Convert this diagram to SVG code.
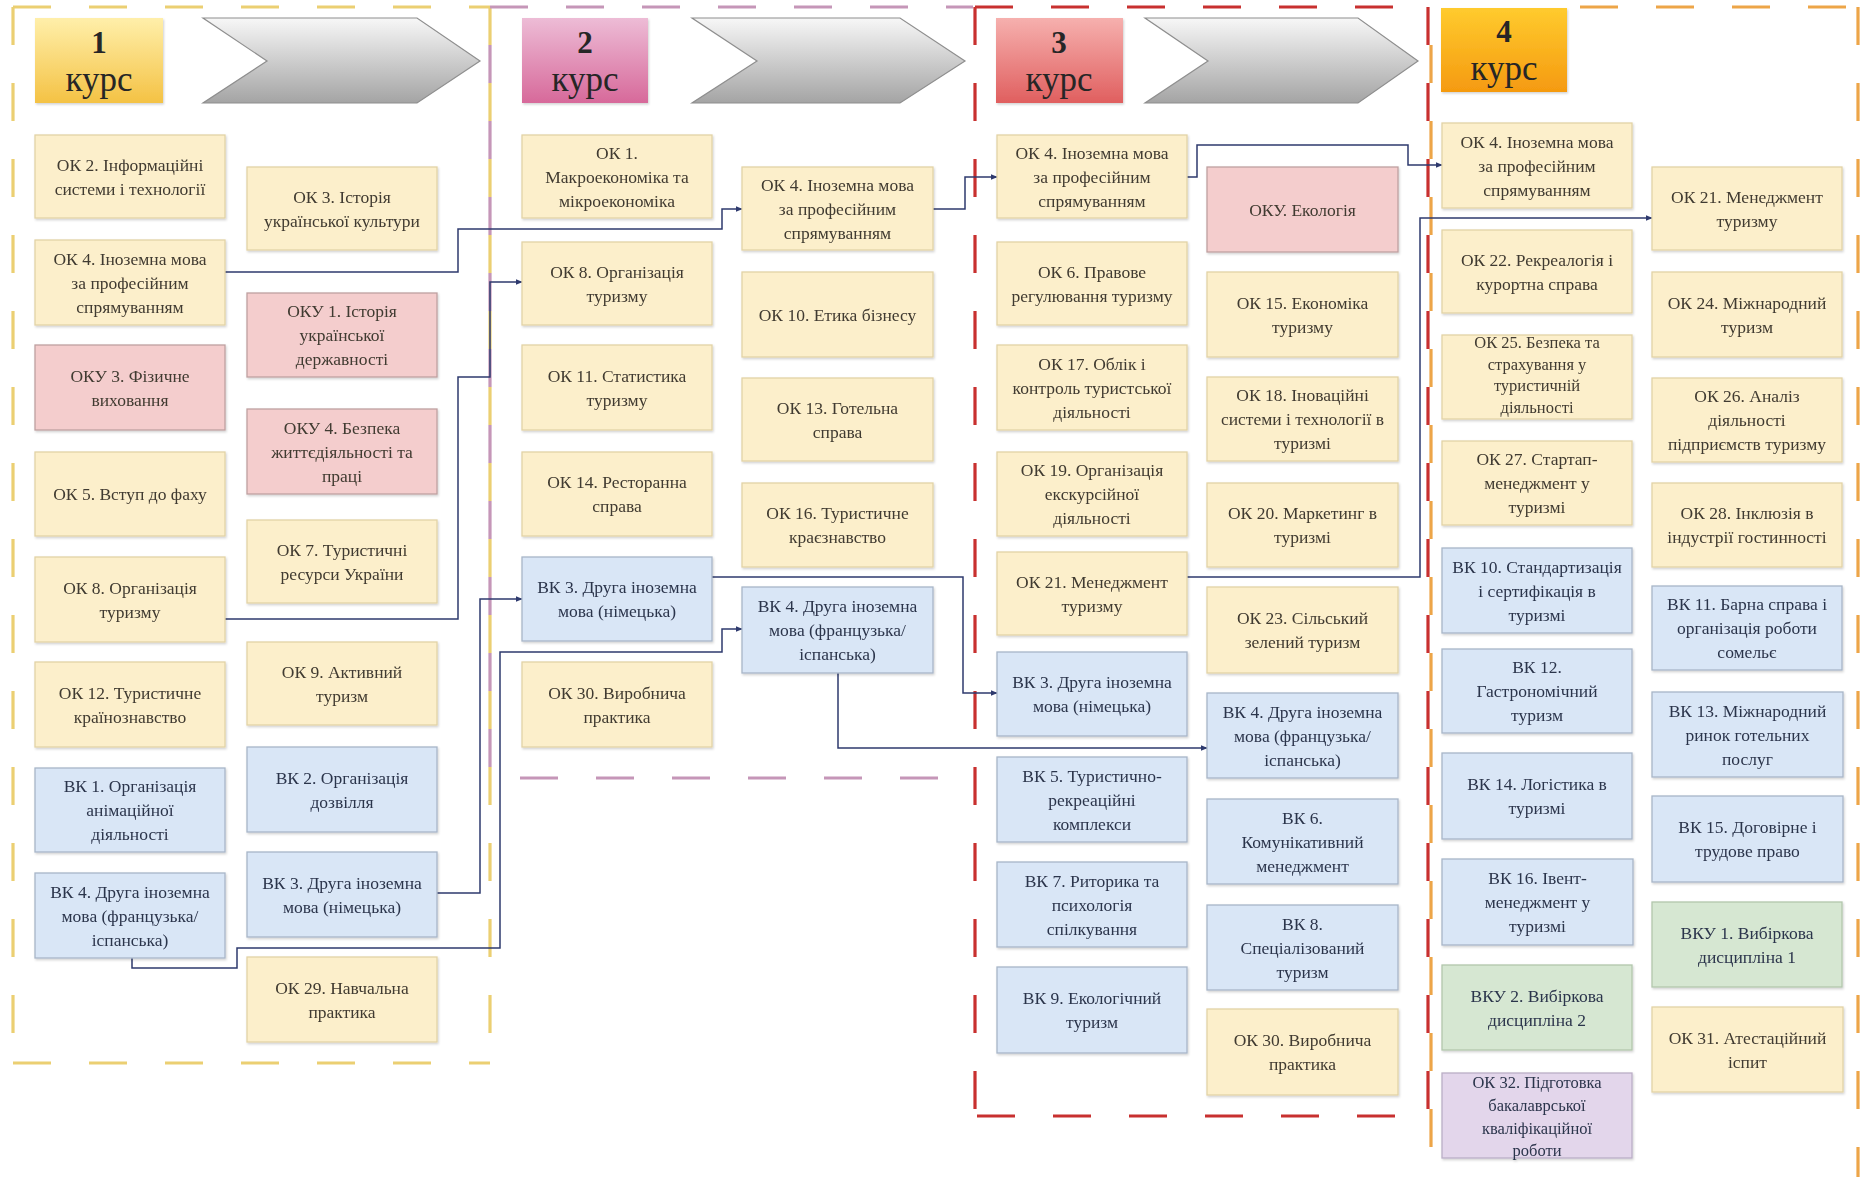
<svg xmlns="http://www.w3.org/2000/svg" width="1861" height="1177" viewBox="0 0 1861 1177">
<defs>
<style>
.b rect{stroke-width:1.3}
.ok rect{fill:#FCEFCB;stroke:#E2D3A6}
.oku rect{fill:#F4CDCD;stroke:#BFA0A0}
.vk rect{fill:#D9E6F6;stroke:#A8B6C8}
.vku rect{fill:#D6E7D2;stroke:#B2C7AD}
.pur rect{fill:#E3D6EB;stroke:#BBAEC6}
text{font-family:"Liberation Serif","Times New Roman",serif;font-size:17.5px;text-anchor:middle}
.ok text,.oku text{fill:#403A30}
.vk text,.vku text,.pur text{fill:#2C354C}
.sm text{font-size:16.5px}
.hd text{fill:#262626}
.hn{font-weight:bold;font-size:31px}
.hk{font-size:35px}
.chev{fill:url(#gch);stroke:#8E8E8E;stroke-width:1.2}
.fr{fill:none;stroke-width:3.2;stroke-dasharray:38 38}
.f1{stroke:#EBCF72}
.f2{stroke:#C596B8}
.f3{stroke:#C8302F}
.f4{stroke:#EDA548}
#connectors path{fill:none;stroke:#2E3A6E;stroke-width:1.5;marker-end:url(#arr)}
</style>
<linearGradient id="gch" x1="0" y1="0" x2="0" y2="1"><stop offset="0" stop-color="#F7F7F7"/><stop offset="1" stop-color="#A4A4A4"/></linearGradient>
<linearGradient id="g1" x1="0" y1="0" x2="0" y2="1"><stop offset="0" stop-color="#FFEFAA"/><stop offset="1" stop-color="#F4C244"/></linearGradient>
<linearGradient id="g2" x1="0" y1="0" x2="0" y2="1"><stop offset="0" stop-color="#EDBCD6"/><stop offset="1" stop-color="#D7699A"/></linearGradient>
<linearGradient id="g3" x1="0" y1="0" x2="0" y2="1"><stop offset="0" stop-color="#F6B0AE"/><stop offset="1" stop-color="#E05F5F"/></linearGradient>
<linearGradient id="g4" x1="0" y1="0" x2="0" y2="1"><stop offset="0" stop-color="#FFCB2E"/><stop offset="1" stop-color="#F59A10"/></linearGradient>
<filter id="sh" x="-5%" y="-5%" width="112%" height="115%"><feDropShadow dx="1" dy="1.5" stdDeviation="1.2" flood-color="#000" flood-opacity="0.18"/></filter>
<marker id="arr" viewBox="0 0 10 10" refX="9" refY="5" markerWidth="7" markerHeight="7" markerUnits="userSpaceOnUse" orient="auto"><path d="M0,1 L10,5 L0,9 z" fill="#2E3A6E"/></marker>
</defs>
<rect width="1861" height="1177" fill="#FFFFFF"/>

<g id="frames">
<path class="fr f1" d="M13,7 H490 M13,7 V1063 M13,1063 H490"/>
<path class="fr f1" d="M490,7 V1063"/>
<path class="fr f2" d="M490,7 H973"/>
<path class="fr f2" d="M490,45 V778"/>
<path class="fr f2" d="M520,778 H945"/>
<path class="fr f3" d="M975,7 H1430 M975,7 V1116 M977,1116 H1400"/>
<path class="fr f4" d="M1431,7 V1170" style="stroke-dashoffset:38"/>
<path class="fr f3" d="M1428,7 V1116"/>
<path class="fr f4" d="M1580,7 H1858 M1858,7 V1177"/>
</g>

<g id="headers" class="hd">
<g id="h1"><rect x="35" y="18" width="128" height="85" fill="url(#g1)" filter="url(#sh)"/><text class="hn" x="99" y="53">1</text><text class="hk" x="99" y="91">курс</text></g>
<polygon class="chev" points="203,18 417,18 480,61 417,103 203,103 267,61"/>
<g id="h2"><rect x="522" y="18" width="126" height="85" fill="url(#g2)" filter="url(#sh)"/><text class="hn" x="585" y="53">2</text><text class="hk" x="585" y="91">курс</text></g>
<polygon class="chev" points="692,18 900,18 965,61 900,103 692,103 757,61"/>
<g id="h3"><rect x="996" y="18" width="127" height="85" fill="url(#g3)" filter="url(#sh)"/><text class="hn" x="1059" y="53">3</text><text class="hk" x="1059" y="91">курс</text></g>
<polygon class="chev" points="1145,18 1358,18 1418,61 1358,103 1145,103 1208,61"/>
<g id="h4"><rect x="1441" y="8" width="126" height="84" fill="url(#g4)" filter="url(#sh)"/><text class="hn" x="1504" y="42">4</text><text class="hk" x="1504" y="80">курс</text></g>
</g>

<g id="connectors">
<path d="M225,272 H458 V229 H722 V209 H742"/>
<path d="M225,619 H458 V377 H490 V282 H522"/>
<path d="M437,893 H480 V599 H522"/>
<path d="M132,958 V968 H237 V948 H500 V652 H722 V629 H742"/>
<path d="M933,209 H965 V177 H997"/>
<path d="M712,577 H963 V693 H997"/>
<path d="M838,673 V748 H1207"/>
<path d="M1187,177 H1197 V145 H1408 V165 H1442"/>
<path d="M1187,577 H1420 V218 H1652"/>
</g>

<g id="nodes" filter="url(#sh)">
<!-- Course 1 -->
<g id="c1-ok2" class="b ok"><rect x="35" y="135" width="190" height="83"/><text x="130" y="170.5">ОК 2. Інформаційні</text><text x="130" y="194.5">системи і технології</text></g>
<g id="c1-ok3" class="b ok"><rect x="247" y="167" width="190" height="83"/><text x="342" y="202.5">ОК 3. Історія</text><text x="342" y="226.5">української культури</text></g>
<g id="c1-ok4" class="b ok"><rect x="35" y="240" width="190" height="85"/><text x="130" y="264.5">ОК 4. Іноземна мова</text><text x="130" y="288.5">за професійним</text><text x="130" y="312.5">спрямуванням</text></g>
<g id="c1-oku1" class="b oku"><rect x="247" y="293" width="190" height="84"/><text x="342" y="317">ОКУ 1. Історія</text><text x="342" y="341">української</text><text x="342" y="365">державності</text></g>
<g id="c1-oku3" class="b oku"><rect x="35" y="345" width="190" height="85"/><text x="130" y="381.5">ОКУ 3. Фізичне</text><text x="130" y="405.5">виховання</text></g>
<g id="c1-oku4" class="b oku"><rect x="247" y="409" width="190" height="85"/><text x="342" y="433.5">ОКУ 4. Безпека</text><text x="342" y="457.5">життєдіяльності та</text><text x="342" y="481.5">праці</text></g>
<g id="c1-ok5" class="b ok"><rect x="35" y="452" width="190" height="84"/><text x="130" y="500">ОК 5. Вступ до фаху</text></g>
<g id="c1-ok7" class="b ok"><rect x="247" y="520" width="190" height="83"/><text x="342" y="555.5">ОК 7. Туристичні</text><text x="342" y="579.5">ресурси України</text></g>
<g id="c1-ok8" class="b ok"><rect x="35" y="557" width="190" height="85"/><text x="130" y="593.5">ОК 8. Організація</text><text x="130" y="617.5">туризму</text></g>
<g id="c1-ok9" class="b ok"><rect x="247" y="642" width="190" height="83"/><text x="342" y="677.5">ОК 9. Активний</text><text x="342" y="701.5">туризм</text></g>
<g id="c1-ok12" class="b ok"><rect x="35" y="662" width="190" height="85"/><text x="130" y="698.5">ОК 12. Туристичне</text><text x="130" y="722.5">країнознавство</text></g>
<g id="c1-vk2" class="b vk"><rect x="247" y="747" width="190" height="85"/><text x="342" y="783.5">ВК 2. Організація</text><text x="342" y="807.5">дозвілля</text></g>
<g id="c1-vk1" class="b vk"><rect x="35" y="768" width="190" height="84"/><text x="130" y="792">ВК 1. Організація</text><text x="130" y="816">анімаційної</text><text x="130" y="840">діяльності</text></g>
<g id="c1-vk3" class="b vk"><rect x="247" y="852" width="190" height="85"/><text x="342" y="888.5">ВК 3. Друга іноземна</text><text x="342" y="912.5">мова (німецька)</text></g>
<g id="c1-vk4" class="b vk"><rect x="35" y="873" width="190" height="85"/><text x="130" y="897.5">ВК 4. Друга іноземна</text><text x="130" y="921.5">мова (французька/</text><text x="130" y="945.5">іспанська)</text></g>
<g id="c1-ok29" class="b ok"><rect x="247" y="957" width="190" height="85"/><text x="342" y="993.5">ОК 29. Навчальна</text><text x="342" y="1017.5">практика</text></g>

<!-- Course 2 -->
<g id="c2-ok1" class="b ok"><rect x="522" y="135" width="190" height="83"/><text x="617" y="158.5">ОК 1.</text><text x="617" y="182.5">Макроекономіка та</text><text x="617" y="206.5">мікроекономіка</text></g>
<g id="c2-ok4" class="b ok"><rect x="742" y="167" width="191" height="83"/><text x="837.5" y="190.5">ОК 4. Іноземна мова</text><text x="837.5" y="214.5">за професійним</text><text x="837.5" y="238.5">спрямуванням</text></g>
<g id="c2-ok8" class="b ok"><rect x="522" y="242" width="190" height="83"/><text x="617" y="277.5">ОК 8. Організація</text><text x="617" y="301.5">туризму</text></g>
<g id="c2-ok10" class="b ok"><rect x="742" y="272" width="191" height="85"/><text x="837.5" y="320.5">ОК 10. Етика бізнесу</text></g>
<g id="c2-ok11" class="b ok"><rect x="522" y="345" width="190" height="85"/><text x="617" y="381.5">ОК 11. Статистика</text><text x="617" y="405.5">туризму</text></g>
<g id="c2-ok13" class="b ok"><rect x="742" y="378" width="191" height="83"/><text x="837.5" y="413.5">ОК 13. Готельна</text><text x="837.5" y="437.5">справа</text></g>
<g id="c2-ok14" class="b ok"><rect x="522" y="452" width="190" height="84"/><text x="617" y="488">ОК 14. Ресторанна</text><text x="617" y="512">справа</text></g>
<g id="c2-ok16" class="b ok"><rect x="742" y="483" width="191" height="84"/><text x="837.5" y="519">ОК 16. Туристичне</text><text x="837.5" y="543">краєзнавство</text></g>
<g id="c2-vk3" class="b vk"><rect x="522" y="557" width="190" height="84"/><text x="617" y="593">ВК 3. Друга іноземна</text><text x="617" y="617">мова (німецька)</text></g>
<g id="c2-vk4" class="b vk"><rect x="742" y="587" width="191" height="86"/><text x="837.5" y="612">ВК 4. Друга іноземна</text><text x="837.5" y="636">мова (французька/</text><text x="837.5" y="660">іспанська)</text></g>
<g id="c2-ok30" class="b ok"><rect x="522" y="662" width="190" height="85"/><text x="617" y="698.5">ОК 30. Виробнича</text><text x="617" y="722.5">практика</text></g>

<!-- Course 3 -->
<g id="c3-ok4" class="b ok"><rect x="997" y="135" width="190" height="83"/><text x="1092" y="158.5">ОК 4. Іноземна мова</text><text x="1092" y="182.5">за професійним</text><text x="1092" y="206.5">спрямуванням</text></g>
<g id="c3-oku" class="b oku"><rect x="1207" y="167" width="191" height="85"/><text x="1302.5" y="215.5">ОКУ. Екологія</text></g>
<g id="c3-ok6" class="b ok"><rect x="997" y="242" width="190" height="83"/><text x="1092" y="277.5">ОК 6. Правове</text><text x="1092" y="301.5">регулювання туризму</text></g>
<g id="c3-ok15" class="b ok"><rect x="1207" y="272" width="191" height="85"/><text x="1302.5" y="308.5">ОК 15. Економіка</text><text x="1302.5" y="332.5">туризму</text></g>
<g id="c3-ok17" class="b ok"><rect x="997" y="345" width="190" height="85"/><text x="1092" y="369.5">ОК 17. Облік і</text><text x="1092" y="393.5">контроль туристської</text><text x="1092" y="417.5">діяльності</text></g>
<g id="c3-ok18" class="b ok"><rect x="1207" y="377" width="191" height="84"/><text x="1302.5" y="401">ОК 18. Іноваційні</text><text x="1302.5" y="425">системи і технології в</text><text x="1302.5" y="449">туризмі</text></g>
<g id="c3-ok19" class="b ok"><rect x="997" y="452" width="190" height="84"/><text x="1092" y="476">ОК 19. Організація</text><text x="1092" y="500">екскурсійної</text><text x="1092" y="524">діяльності</text></g>
<g id="c3-ok20" class="b ok"><rect x="1207" y="483" width="191" height="84"/><text x="1302.5" y="519">ОК 20. Маркетинг в</text><text x="1302.5" y="543">туризмі</text></g>
<g id="c3-ok21" class="b ok"><rect x="997" y="552" width="190" height="83"/><text x="1092" y="587.5">ОК 21. Менеджмент</text><text x="1092" y="611.5">туризму</text></g>
<g id="c3-ok23" class="b ok"><rect x="1207" y="587" width="191" height="86"/><text x="1302.5" y="624">ОК 23. Сільський</text><text x="1302.5" y="648">зелений туризм</text></g>
<g id="c3-vk3" class="b vk"><rect x="997" y="652" width="190" height="84"/><text x="1092" y="688">ВК 3. Друга іноземна</text><text x="1092" y="712">мова (німецька)</text></g>
<g id="c3-vk4" class="b vk"><rect x="1207" y="693" width="191" height="85"/><text x="1302.5" y="717.5">ВК 4. Друга іноземна</text><text x="1302.5" y="741.5">мова (французька/</text><text x="1302.5" y="765.5">іспанська)</text></g>
<g id="c3-vk5" class="b vk"><rect x="997" y="757" width="190" height="85"/><text x="1092" y="781.5">ВК 5. Туристично-</text><text x="1092" y="805.5">рекреаційні</text><text x="1092" y="829.5">комплекси</text></g>
<g id="c3-vk6" class="b vk"><rect x="1207" y="799" width="191" height="85"/><text x="1302.5" y="823.5">ВК 6.</text><text x="1302.5" y="847.5">Комунікативний</text><text x="1302.5" y="871.5">менеджмент</text></g>
<g id="c3-vk7" class="b vk"><rect x="997" y="862" width="190" height="85"/><text x="1092" y="886.5">ВК 7. Риторика та</text><text x="1092" y="910.5">психологія</text><text x="1092" y="934.5">спілкування</text></g>
<g id="c3-vk8" class="b vk"><rect x="1207" y="905" width="191" height="85"/><text x="1302.5" y="929.5">ВК 8.</text><text x="1302.5" y="953.5">Спеціалізований</text><text x="1302.5" y="977.5">туризм</text></g>
<g id="c3-vk9" class="b vk"><rect x="997" y="967" width="190" height="86"/><text x="1092" y="1004">ВК 9. Екологічний</text><text x="1092" y="1028">туризм</text></g>
<g id="c3-ok30" class="b ok"><rect x="1207" y="1009" width="191" height="86"/><text x="1302.5" y="1046">ОК 30. Виробнича</text><text x="1302.5" y="1070">практика</text></g>

<!-- Course 4 -->
<g id="c4-ok4" class="b ok"><rect x="1442" y="123" width="190" height="85"/><text x="1537" y="147.5">ОК 4. Іноземна мова</text><text x="1537" y="171.5">за професійним</text><text x="1537" y="195.5">спрямуванням</text></g>
<g id="c4-ok21" class="b ok"><rect x="1652" y="167" width="190" height="83"/><text x="1747" y="202.5">ОК 21. Менеджмент</text><text x="1747" y="226.5">туризму</text></g>
<g id="c4-ok22" class="b ok"><rect x="1442" y="230" width="190" height="83"/><text x="1537" y="265.5">ОК 22. Рекреалогія і</text><text x="1537" y="289.5">курортна справа</text></g>
<g id="c4-ok24" class="b ok"><rect x="1652" y="272" width="190" height="85"/><text x="1747" y="308.5">ОК 24. Міжнародний</text><text x="1747" y="332.5">туризм</text></g>
<g id="c4-ok25" class="b ok sm"><rect x="1442" y="335" width="190" height="84"/><text x="1537" y="348">ОК 25. Безпека та</text><text x="1537" y="369.5">страхування у</text><text x="1537" y="391">туристичній</text><text x="1537" y="412.5">діяльності</text></g>
<g id="c4-ok26" class="b ok"><rect x="1652" y="378" width="190" height="84"/><text x="1747" y="402">ОК 26. Аналіз</text><text x="1747" y="426">діяльності</text><text x="1747" y="450">підприємств туризму</text></g>
<g id="c4-ok27" class="b ok"><rect x="1442" y="441" width="190" height="84"/><text x="1537" y="465">ОК 27. Стартап-</text><text x="1537" y="489">менеджмент у</text><text x="1537" y="513">туризмі</text></g>
<g id="c4-ok28" class="b ok"><rect x="1652" y="483" width="190" height="84"/><text x="1747" y="519">ОК 28. Інклюзія в</text><text x="1747" y="543">індустрії гостинності</text></g>
<g id="c4-vk10" class="b vk"><rect x="1442" y="548" width="190" height="85"/><text x="1537" y="572.5">ВК 10. Стандартизація</text><text x="1537" y="596.5">і сертифікація в</text><text x="1537" y="620.5">туризмі</text></g>
<g id="c4-vk11" class="b vk"><rect x="1652" y="586" width="190" height="84"/><text x="1747" y="610">ВК 11. Барна справа і</text><text x="1747" y="634">організація роботи</text><text x="1747" y="658">сомельє</text></g>
<g id="c4-vk12" class="b vk"><rect x="1442" y="649" width="190" height="84"/><text x="1537" y="673">ВК 12.</text><text x="1537" y="697">Гастрономічний</text><text x="1537" y="721">туризм</text></g>
<g id="c4-vk13" class="b vk"><rect x="1652" y="692" width="191" height="85"/><text x="1747.5" y="716.5">ВК 13. Міжнародний</text><text x="1747.5" y="740.5">ринок готельних</text><text x="1747.5" y="764.5">послуг</text></g>
<g id="c4-vk14" class="b vk"><rect x="1442" y="753" width="190" height="86"/><text x="1537" y="790">ВК 14. Логістика в</text><text x="1537" y="814">туризмі</text></g>
<g id="c4-vk15" class="b vk"><rect x="1652" y="796" width="191" height="86"/><text x="1747.5" y="833">ВК 15. Договірне і</text><text x="1747.5" y="857">трудове право</text></g>
<g id="c4-vk16" class="b vk"><rect x="1442" y="859" width="191" height="86"/><text x="1537.5" y="884">ВК 16. Івент-</text><text x="1537.5" y="908">менеджмент у</text><text x="1537.5" y="932">туризмі</text></g>
<g id="c4-vku1" class="b vku"><rect x="1652" y="902" width="190" height="85"/><text x="1747" y="938.5">ВКУ 1. Вибіркова</text><text x="1747" y="962.5">дисципліна 1</text></g>
<g id="c4-vku2" class="b vku"><rect x="1442" y="965" width="190" height="85"/><text x="1537" y="1001.5">ВКУ 2. Вибіркова</text><text x="1537" y="1025.5">дисципліна 2</text></g>
<g id="c4-ok31" class="b ok"><rect x="1652" y="1007" width="191" height="85"/><text x="1747.5" y="1043.5">ОК 31. Атестаційний</text><text x="1747.5" y="1067.5">іспит</text></g>
<g id="c4-ok32" class="b pur sm"><rect x="1442" y="1073" width="190" height="85"/><text x="1537" y="1088">ОК 32. Підготовка</text><text x="1537" y="1111">бакалаврської</text><text x="1537" y="1134">кваліфікаційної</text><text x="1537" y="1156">роботи</text></g>
</g>
</svg>
